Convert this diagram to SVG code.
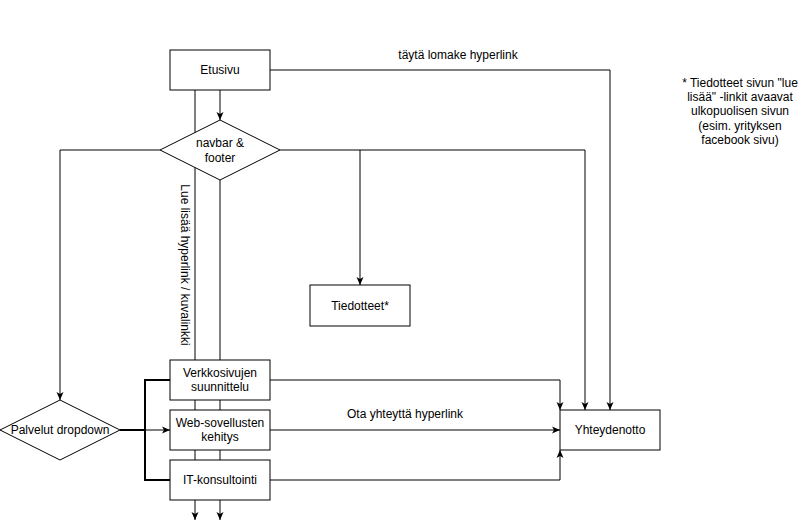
<svg xmlns="http://www.w3.org/2000/svg" width="802" height="529" viewBox="0 0 802 529">
<style>
text{font-family:"Liberation Sans",Arial,sans-serif;font-size:12px;fill:#000;text-anchor:middle}
.n{fill:#fff;stroke:#000;stroke-width:1}
.e{fill:none;stroke:#000;stroke-width:1}
.ea{fill:none;stroke:#000;stroke-width:1;marker-end:url(#a)}
.t{fill:none;stroke:#000;stroke-width:2}
</style>
<defs>
<marker id="a" viewBox="0 0 8 8" refX="8" refY="4" markerWidth="8" markerHeight="8" markerUnits="userSpaceOnUse" orient="auto">
<path d="M0,0.5 L8,4 L0,7.5 L2,4 Z" fill="#000"/>
</marker>
</defs>
<rect width="802" height="529" fill="#fff"/>
<g id="connectors">
<path class="ea" d="M195,90 V520"/>
<path class="ea" d="M220,90 V120"/>
<path class="ea" d="M220,180 V520"/>
<path class="ea" d="M270,70 H610 V410"/>
<path class="ea" d="M160,150 H60 V400"/>
<path class="ea" d="M280,150 H585 V410"/>
<path class="ea" d="M360,150 V285"/>
<path class="t" d="M120,430 H145 V380 H170"/>
<path class="t" d="M145,430 V480 H170"/>
<path class="ea" d="M145,430 H170"/>
<path class="ea" d="M270,380 H560 V410"/>
<path class="ea" d="M270,430 H560"/>
<path class="ea" d="M270,480 H560 V450"/>
<text x="458" y="59">täytä lomake hyperlink</text>
<text x="405" y="418">Ota yhteyttä hyperlink</text>
<text transform="translate(181,265) rotate(90)">Lue lisää hyperlink / kuvalinkki</text>
</g>
<g id="etusivu"><rect class="n" x="170" y="50" width="100" height="40"/><text x="220" y="74">Etusivu</text></g>
<g id="navbar"><polygon class="n" points="220,120 280,150 220,180 160,150"/><text x="220" y="147">navbar &amp;</text><text x="220" y="162">footer</text></g>
<g id="tiedotteet"><rect class="n" x="310" y="285" width="100" height="41"/><text x="360" y="310">Tiedotteet*</text></g>
<g id="palvelut"><polygon class="n" points="60,400 120,430 60,460 0,430"/><text x="60" y="434">Palvelut dropdown</text></g>
<g id="verkkosivujen"><rect class="n" x="170" y="360" width="100" height="40"/><text x="220" y="377">Verkkosivujen</text><text x="220" y="391">suunnittelu</text></g>
<g id="websovellusten"><rect class="n" x="170" y="410" width="100" height="40"/><text x="220" y="427">Web-sovellusten</text><text x="220" y="441">kehitys</text></g>
<g id="itkonsultointi"><rect class="n" x="170" y="460" width="100" height="40"/><text x="220" y="484">IT-konsultointi</text></g>
<g id="yhteydenotto"><rect class="n" x="560" y="410" width="100" height="40"/><text x="610" y="434">Yhteydenotto</text></g>
<g id="note">
<text x="740" y="87">* Tiedotteet sivun "lue</text>
<text x="740" y="101">lisää" -linkit avaavat</text>
<text x="740" y="115">ulkopuolisen sivun</text>
<text x="740" y="130">(esim. yrityksen</text>
<text x="740" y="144">facebook sivu)</text>
</g>
</svg>
